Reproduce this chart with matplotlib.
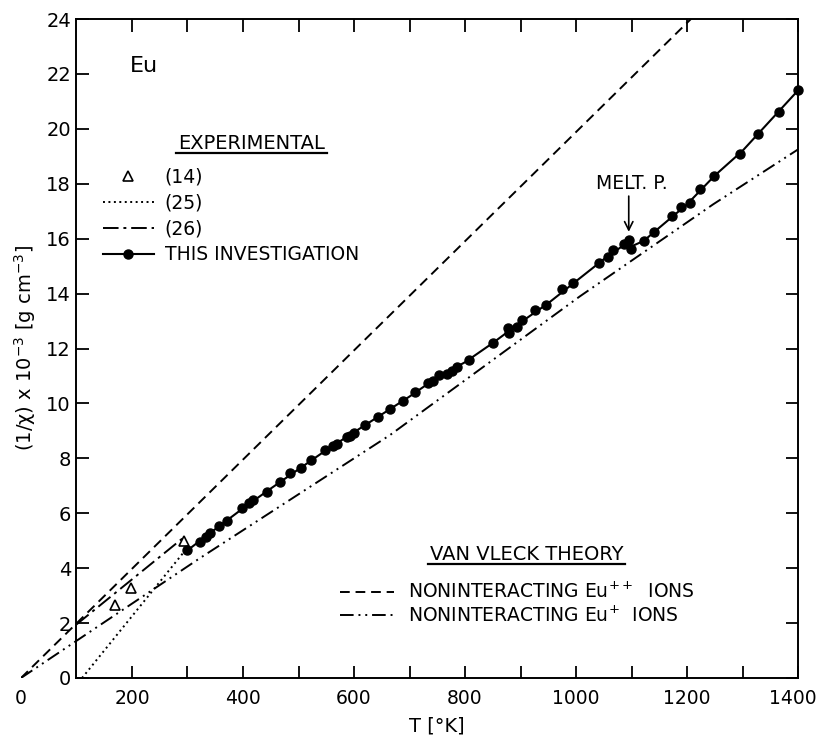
import matplotlib.pyplot as plt
from matplotlib.lines import Line2D
from matplotlib.ticker import FixedLocator
from matplotlib.transforms import IdentityTransform, ScaledTranslation

plt.rcParams['font.family'] = 'DejaVu Sans'

# experimental (14): open triangles
T_14 = [169, 198, 293]
y_14 = [2.66, 3.29, 5.0]

# experimental (25): dotted line
T_25 = [110, 298]
y_25 = [0.0, 4.7]

# experimental (26): dash-dot line
T_26 = [100, 295]
y_26 = [1.95, 5.15]

# this investigation: measured points
T_ours = [300, 322, 333, 341, 357, 372, 399, 410, 418, 443, 467, 485, 504, 523,
          548, 562, 570, 588, 593, 600, 620, 644, 665, 689, 710, 734, 743, 754,
          767, 777, 786, 807, 851, 878, 879, 893, 902, 927, 946, 974, 994, 1041,
          1057, 1066, 1087, 1096, 1099, 1122, 1140, 1173, 1189, 1205, 1223, 1248,
          1295, 1328, 1366, 1400]
y_ours = [4.66, 4.97, 5.15, 5.29, 5.55, 5.72, 6.18, 6.36, 6.48, 6.79, 7.15, 7.46, 7.66, 7.94,
          8.31, 8.46, 8.52, 8.77, 8.82, 8.94, 9.22, 9.50, 9.80, 10.07, 10.40, 10.76, 10.83, 11.04,
          11.07, 11.19, 11.32, 11.58, 12.21, 12.74, 12.58, 12.78, 13.02, 13.41, 13.59, 14.16, 14.38, 15.11,
          15.35, 15.59, 15.81, 15.96, 15.62, 15.90, 16.26, 16.81, 17.17, 17.29, 17.80, 18.29,
          19.09, 19.82, 20.63, 21.40]

# drawn curve through the points
T_curve = [298, 350, 400, 450, 500, 550, 600, 650, 700, 750, 800, 850, 900, 950,
           1000, 1050, 1085, 1100, 1122, 1150, 1200, 1250, 1300, 1350, 1400]
y_curve = [4.62, 5.42, 6.18, 6.90, 7.60, 8.30, 8.95, 9.60, 10.25, 10.95, 11.50, 12.20, 12.95, 13.65,
           14.45, 15.25, 15.75, 15.72, 15.92, 16.40, 17.25, 18.30, 19.20, 20.30, 21.40]

# Van Vleck theory
T_eu2 = [0, 1207]
y_eu2 = [0, 24]
T_eu1 = [0, 322, 665, 1007, 1247, 1400]
y_eu1 = [0, 4.36, 8.85, 13.9, 17.25, 19.25]

x_ticks = [0, 200, 400, 600, 800, 1000, 1200, 1400]
x_minor = [300, 500, 700, 900, 1100, 1300]
y_ticks = list(range(0, 25, 2))

fig = plt.figure(figsize=(8.2, 7.4), dpi=100)
ax = fig.add_axes([0.0256, 0.0838, 0.9476, 0.8905])
ax.set_xlim(0, 1400)
ax.set_ylim(0, 24)

lw = 1.4
h_eu2, = ax.plot(T_eu2, y_eu2, color='k', lw=lw, linestyle=(0, (5, 3)),
                 label='NONINTERACTING Eu$^{++}$  IONS')
h_eu1, = ax.plot(T_eu1, y_eu1, color='k', lw=lw, linestyle=(0, (7, 2.5, 1, 2.5, 1, 2.5)),
                 label='NONINTERACTING Eu$^{+}$  IONS')
h25, = ax.plot(T_25, y_25, color='k', lw=1.4, linestyle=(0, (1, 1.8)))
h26, = ax.plot(T_26, y_26, color='k', lw=lw, linestyle=(0, (8, 2.5, 1.5, 2.5)))
h14, = ax.plot(T_14, y_14, linestyle='none', marker='^', ms=7, mfc='white',
               mec='k', mew=1.2)
hfit, = ax.plot(T_curve, y_curve, color='k', lw=1.5)
hpts, = ax.plot(T_ours, y_ours, linestyle='none', marker='o', ms=6.5, color='k',
                clip_on=False, zorder=4)

# spines: left axis sits at T = 100
ax.spines['left'].set_position(('data', 100))
ax.spines['bottom'].set_bounds(100, 1400)
ax.spines['top'].set_bounds(100, 1400)
for s in ax.spines.values():
    s.set_linewidth(1.4)

ax.set_xticks(x_ticks)
ax.set_xticklabels([str(v) for v in x_ticks])
ax.xaxis.set_minor_locator(FixedLocator(x_minor))
ax.set_yticks(y_ticks)
ax.tick_params(which='both', direction='in', top=True, right=True,
               length=9, width=1.3, labelsize=14)
ax.tick_params(axis='x', which='both', pad=8, labelsize=13.5)
ax.tick_params(axis='y', pad=4)
t0 = ax.xaxis.get_major_ticks()[0]
t0.tick1line.set_visible(False)
t0.tick2line.set_visible(False)
# keep the last label inside the figure
last = ax.get_xticklabels()[-1]
last.set_transform(last.get_transform() + ScaledTranslation(-4 / 72, 0, fig.dpi_scale_trans))

ax.set_xlabel('T [°K]', fontsize=14)
ax.xaxis.set_label_coords(0.535, -0.058)
ax.set_ylabel('(1/χ) x 10$^{-3}$ [g cm$^{-3}$]', fontsize=14)
ax.yaxis.set_label_coords(0.022, 0.5)

ax.text(196, 22.3, 'Eu', fontsize=16, ha='left', va='center')

t_exp = ax.text(416, 19.45, 'EXPERIMENTAL', fontsize=14, ha='center', va='center')
t_vv = ax.text(911, 4.48, 'VAN VLECK THEORY', fontsize=14, ha='center', va='center')

leg1 = ax.legend(handles=[h14, h25, h26, (hfit, hpts)],
                 labels=['(14)', '(25)', '(26)', 'THIS INVESTIGATION'],
                 loc='upper left', bbox_to_anchor=(0.1055, 0.774), frameon=False,
                 fontsize=13.5, handlelength=2.7, handletextpad=0.6,
                 labelspacing=0.36, borderpad=0, borderaxespad=0, numpoints=1)
ax.add_artist(leg1)
ax.legend(handles=[h_eu2, h_eu1], loc='upper left', bbox_to_anchor=(0.4106, 0.1457),
          frameon=False, fontsize=13.5, handlelength=2.9, handletextpad=0.7,
          labelspacing=0.2, borderpad=0, borderaxespad=0)

ax.text(1100, 18.0, 'MELT. P.', fontsize=13.5, ha='center', va='center')
ax.annotate('', xy=(1095, 16.25), xytext=(1095, 17.55),
            arrowprops=dict(arrowstyle='->', color='k', lw=1.2,
                            mutation_scale=15, shrinkA=0, shrinkB=0))

# underline the two headings
fig.canvas.draw()
for t in (t_exp, t_vv):
    bb = t.get_window_extent()
    fig.add_artist(Line2D([bb.x0 - 2, bb.x1 + 2], [bb.y0, bb.y0],
                          transform=IdentityTransform(), color='k', lw=1.6))

fig.savefig('out.png', dpi=100)
